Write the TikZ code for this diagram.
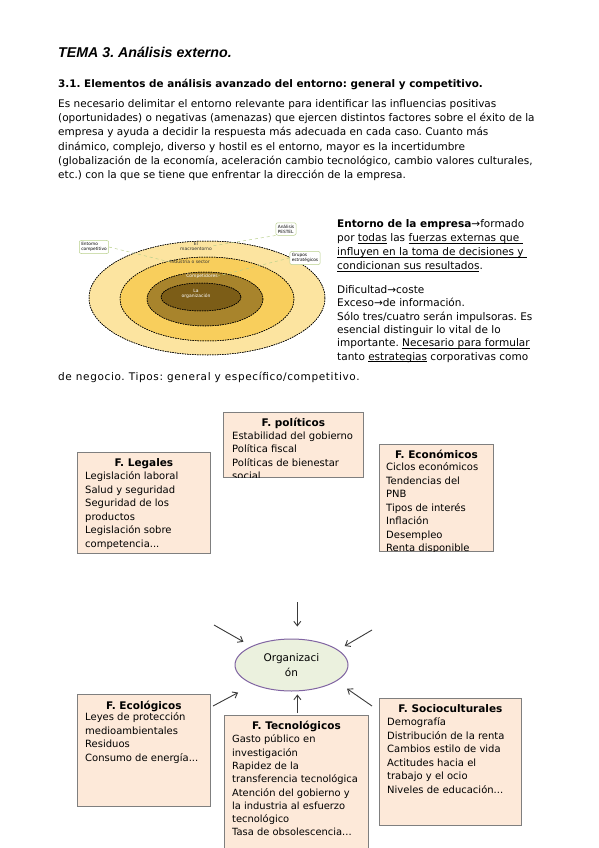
\documentclass[tikz,border=0pt]{standalone}
\usepackage{fontspec}
\setmainfont{DejaVu Sans}
\newfontfamily\titlefont{Liberation Sans}
\usetikzlibrary{arrows.meta,shapes.geometric}
\frenchspacing
\newcommand{\ulw}[1]{\setbox0\hbox{#1}\rlap{\rule[-1.7pt]{\wd0}{0.55pt}}\box0\relax}

\definecolor{peach}{HTML}{FDE9D9}
\definecolor{boxgray}{HTML}{7F7F7F}
\definecolor{orgfill}{HTML}{EBF1DE}
\definecolor{orgline}{HTML}{8064A2}
\definecolor{arrowgray}{HTML}{3A3A3A}
\definecolor{ringA}{HTML}{FCE4A0}
\definecolor{ringB}{HTML}{F8CE5C}
\definecolor{ringC}{HTML}{A8842C}
\definecolor{ringD}{HTML}{7C5D17}
\definecolor{leader}{HTML}{B9D08C}

\begin{document}
\begin{tikzpicture}[x=1pt,y=-1pt,
  txt/.style={anchor=north west,align=left,inner sep=0pt,execute at begin node=\strut},
  factor/.style={draw=boxgray,fill=peach,line width=0.8pt,anchor=north west,inner sep=0pt},
  ftitle/.style={anchor=base,inner sep=0pt,font=\fontsize{10.5}{12}\selectfont\bfseries},
  flist/.style={anchor=north west,align=left,inner sep=0pt,
    font=\fontsize{10}{13.5}\selectfont,execute at begin node=\strut},
  ring/.style={draw=black,line width=0.5pt,dash pattern=on 1.5pt off 1pt},
  callout/.style={draw=leader,fill=white,rounded corners=2pt,line width=0.5pt,
    align=left,inner sep=2pt,font=\fontsize{4.3}{5}\selectfont},
  ringlbl/.style={align=center,inner sep=0pt,font=\fontsize{4.5}{5}\selectfont},
  infl/.style={-{Straight Barb[length=4.5pt,width=7pt]},draw=arrowgray,line width=0.9pt}]
\useasboundingbox (0,0) rectangle (599,848);

% heading and introduction
\node[anchor=base west,inner sep=0pt,font=\titlefont\fontsize{14.2}{16}\selectfont\bfseries\itshape]
  (tema) at (58,58) {TEMA 3. Análisis externo.};
\node[anchor=base west,inner sep=0pt,font=\fontsize{10.4}{12}\selectfont\bfseries]
  (sec) at (58,87.5) {3.1. Elementos de análisis avanzado del entorno: general y competitivo.};
\node[txt,font=\fontsize{10.5}{14.3}\selectfont] (intro) at (58,99) {Es necesario delimitar el entorno relevante para identificar las influencias positivas\\
(oportunidades) o negativas (amenazas) que ejercen distintos factores sobre el éxito de la\\
empresa y ayuda a decidir la respuesta más adecuada en cada caso. Cuanto más\\
dinámico, complejo, diverso y hostil es el entorno, mayor es la incertidumbre\\
(globalización de la economía, aceleración cambio tecnológico, cambio valores culturales,\\
etc.) con la que se tiene que enfrentar la dirección de la empresa.};

% rings of the environment
\fill[ring,fill=ringA] (207,298) ellipse [x radius=118, y radius=57];
\fill[ring,fill=ringB] (207,299) ellipse [x radius=87, y radius=42];
\fill[ring,fill=ringC] (205,299) ellipse [x radius=58, y radius=27];
\fill[ring,fill=ringD] (201,297) ellipse [x radius=40, y radius=14];
\draw[ring] (207,298) ellipse [x radius=118, y radius=57];
\draw[ring] (207,299) ellipse [x radius=87, y radius=42];
\draw[ring] (205,299) ellipse [x radius=58, y radius=27];
\draw[ring] (201,297) ellipse [x radius=40, y radius=14];
\node[ringlbl,text=black!80] (macro) at (196,246) {El\\macroentorno};
\node[ringlbl,text=black!80] (sector) at (190,262) {Industria o sector};
\node[ringlbl,text=white] (compet) at (202,276) {Competidores};
\node[ringlbl,text=white] (orga) at (196,294) {La\\organización};
\node[callout] (ecomp) at (94,247) {Entorno\\competitivo};
\node[callout] (pestel) at (286,229) {Análisis\\PESTEL};
\node[callout] (grupos) at (305,258) {Grupos\\estratégicos};
\draw[leader,dashed,line width=0.5pt] (ecomp.east) -- (sector.west);
\draw[leader,dashed,line width=0.5pt] (pestel.south west) -- (macro.east);
\draw[leader,dashed,line width=0.5pt] (grupos.west) -- (compet.east);

% text beside the rings
\node[txt,font=\fontsize{10.5}{14.2}\selectfont] (defin) at (337,219) {\textbf{Entorno de la empresa}→formado\\
por \ulw{todas} las \ulw{fuerzas externas que\ }\\
\ulw{influyen en la toma de decisiones y\ }\\
\ulw{condicionan sus resultados}.};
\node[txt,font=\fontsize{10.5}{13.3}\selectfont] (difi) at (337,285.4) {Dificultad→coste\\
Exceso→de información.\\
Sólo tres/cuatro serán impulsoras. Es\\
esencial distinguir lo vital de lo\\
importante. \ulw{Necesario para formular}\\
tanto \ulw{estrategias} corporativas como};
\node[anchor=base west,inner sep=0pt,font=\fontsize{10.5}{12}\selectfont\addfontfeature{LetterSpace=6}] (tipos) at (58,380)
  {de negocio. Tipos: general y específico/competitivo.};

% factor boxes, upper row
\node[factor,minimum width=140pt,minimum height=64.5pt] (pol) at (223,412) {};
\node[ftitle] (polh) at ([yshift=-14pt]pol.north) {F. políticos};
\begin{scope}
\clip (pol.south west) rectangle (pol.north east);
\node[flist] (poll) at ([xshift=9pt,yshift=-19.5pt]pol.north west) {Estabilidad del gobierno\\Política fiscal\\Políticas de bienestar\\social};
\end{scope}

\node[factor,minimum width=133pt,minimum height=101pt] (leg) at (77,452) {};
\node[ftitle] (legh) at ([yshift=-14pt]leg.north) {F. Legales};
\node[flist] (legl) at ([xshift=8pt,yshift=-19.5pt]leg.north west) {Legislación laboral\\Salud y seguridad\\Seguridad de los\\productos\\Legislación sobre\\competencia...};

\node[factor,minimum width=114pt,minimum height=106.5pt] (eco) at (379,444) {};
\node[ftitle] (ecoh) at ([yshift=-14pt]eco.north) {F. Económicos};
\begin{scope}
\clip (eco.south west) rectangle (eco.north east);
\node[flist] (ecol) at ([xshift=7pt,yshift=-18.5pt]eco.north west) {Ciclos económicos\\Tendencias del\\PNB\\Tipos de interés\\Inflación\\Desempleo\\Renta disponible};
\end{scope}

% organisation and its influences
\node[ellipse,draw=orgline,fill=orgfill,line width=1pt,minimum width=113pt,minimum height=52pt,
  inner sep=0pt,align=center,font=\fontsize{10.5}{15}\selectfont] (org) at (291.5,665) {Organizaci\\ón};

\node[factor,minimum width=133pt,minimum height=112pt] (ecol) at (77,694) {};
\node[ftitle] (ecolh) at ([yshift=-15pt]ecol.north) {F. Ecológicos};
\node[flist] (ecoll) at ([xshift=8pt,yshift=-18.5pt]ecol.north west) {Leyes de protección\\medioambientales\\Residuos\\Consumo de energía...};

\node[factor,minimum width=144pt,minimum height=145pt] (tec) at (224,715) {};
\node[ftitle] (tech) at ([yshift=-14pt]tec.north) {F. Tecnológicos};
\node[flist,font=\fontsize{9.9}{13.3}\selectfont] (tecl) at ([xshift=8pt,yshift=-19.7pt]tec.north west) {Gasto público en\\investigación\\Rapidez de la\\transferencia tecnológica\\Atención del gobierno y\\la industria al esfuerzo\\tecnológico\\Tasa de obsolescencia...};

\node[factor,minimum width=142pt,minimum height=127pt] (soc) at (379,698) {};
\node[ftitle] (soch) at ([yshift=-14pt]soc.north) {F. Socioculturales};
\node[flist] (socl) at ([xshift=8pt,yshift=-19.5pt]soc.north west) {Demografía\\Distribución de la renta\\Cambios estilo de vida\\Actitudes hacia el\\trabajo y el ocio\\Niveles de educación...};

\coordinate (tTop) at (297.3,602);
\coordinate (tLT) at (214,625);
\coordinate (tRT) at (372,630);
\coordinate (tLB) at (213,706);
\coordinate (tRB) at (372,706);
\draw[infl,shorten >=12pt] (tTop) -- (tTop |- org.north);
\draw[infl,shorten >=9pt] (tLT) -- (org.155.6);
\draw[infl,shorten >=7.5pt] (tRT) -- (org.18.9);
\draw[infl,shorten >=17pt] (tLB) -- (org.207);
\draw[infl,shorten >=13pt] (tRB) -- (org.340);
\draw[infl,shorten <=2pt,shorten >=3pt] ([xshift=1pt]tec.north) -- ([xshift=1pt]tec.north |- org.south);
\end{tikzpicture}
\end{document}
